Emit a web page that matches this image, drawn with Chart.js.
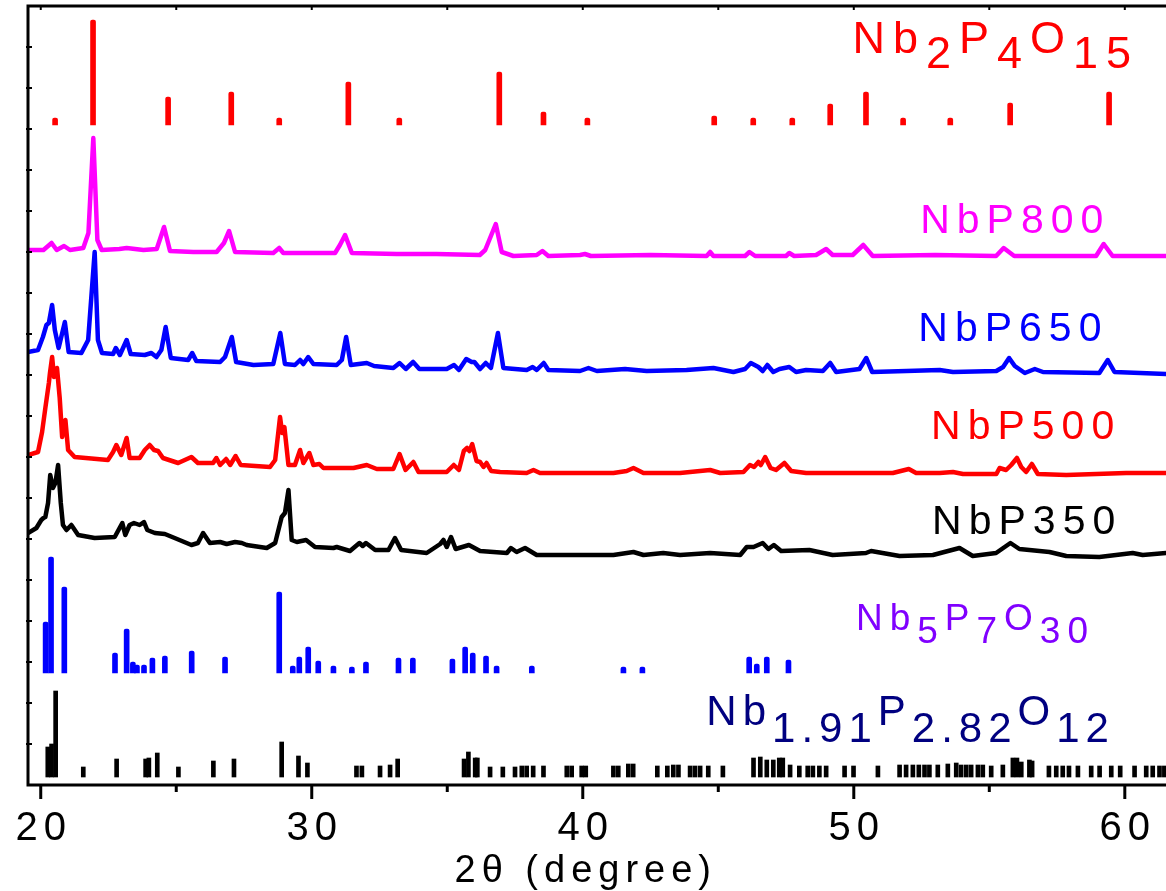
<!DOCTYPE html>
<html>
<head>
<meta charset="utf-8">
<title>XRD NbP</title>
<script src="https://cdn.jsdelivr.net/npm/chart.js@4"></script>
<style>
  html, body { margin: 0; padding: 0; background: #fff; }
</style>
</head>
<body>
<canvas id="xrdChart" width="1166" height="891"></canvas>
<script>
// 2-theta range and tick marks
const twoThetaMin = 19.53;
const twoThetaMax = 61.52;
const twoThetaTicks = [20, 25, 30, 35, 40, 45, 50, 55, 60];
const twoThetaLabels = [20, 30, 40, 50, 60];
const intensityMax = 779;
const intensityTickStep = 41;

// measured patterns, stacked: [2theta, intensity a.u.]
const nbp800 = [[19.53,535],[20.10,535],[20.40,542],[20.59,535],[20.86,539],[21.08,535],[21.57,537],[21.76,552],[21.94,647],[22.09,545],[22.25,535],[22.90,536],[23.17,537],[23.79,535],[24.28,536],[24.55,558],[24.77,534],[25.63,533],[26.49,533],[26.76,542],[26.95,554],[27.17,533],[28.58,532],[28.80,537],[28.95,532],[30.86,532],[31.04,540],[31.23,550],[31.48,532],[33.14,531],[34.60,531],[36.20,530],[36.40,535],[36.79,561],[37.01,533],[37.44,529],[38.30,530],[38.51,534],[38.73,529],[39.90,530],[40.08,531],[40.30,529],[42.50,530],[44.57,529],[44.70,533],[44.82,529],[45.99,529],[46.15,533],[46.36,529],[47.50,529],[47.62,532],[47.80,529],[48.61,530],[48.98,536],[49.22,530],[49.96,530],[50.35,540],[50.70,529],[53.00,530],[55.25,529],[55.53,537],[55.92,529],[58.94,529],[59.22,541],[59.55,529],[61.52,529]];

const nbp650 = [[19.53,433],[19.90,435],[20.08,448],[20.21,460],[20.30,462],[20.42,480],[20.52,455],[20.66,437],[20.89,463],[21.03,433],[21.50,432],[21.75,445],[21.99,533],[22.11,445],[22.26,432],[22.67,431],[22.77,437],[22.92,430],[23.17,445],[23.32,431],[23.84,430],[24.08,432],[24.27,428],[24.45,435],[24.61,458],[24.80,427],[25.44,425],[25.59,432],[25.74,424],[26.62,423],[26.80,428],[27.05,448],[27.21,423],[27.85,420],[28.58,421],[28.84,452],[29.01,421],[29.38,420],[29.57,425],[29.69,421],[29.87,428],[30.06,421],[30.92,420],[31.11,425],[31.27,448],[31.44,420],[32.03,422],[32.30,419],[33.01,417],[33.24,422],[33.47,416],[33.74,423],[33.97,416],[34.98,416],[35.25,420],[35.43,415],[35.70,426],[35.90,423],[36.00,423],[36.21,416],[36.42,422],[36.61,417],[36.87,452],[37.07,417],[37.93,415],[38.15,418],[38.30,415],[38.56,422],[38.73,415],[39.90,414],[40.21,417],[40.52,414],[41.56,416],[42.36,414],[43.83,415],[44.82,417],[45.56,413],[45.99,416],[46.20,422],[46.48,418],[46.64,414],[46.81,420],[47.03,413],[47.26,416],[47.62,418],[47.87,413],[48.24,415],[48.86,414],[49.13,422],[49.35,413],[50.21,416],[50.46,427],[50.68,413],[51.94,414],[53.17,415],[53.66,413],[55.26,414],[55.51,418],[55.73,427],[55.94,419],[56.31,412],[56.68,416],[56.98,413],[59.06,412],[59.37,425],[59.62,413],[61.52,411]];

const nbp500 = [[19.53,330],[19.90,333],[20.05,353],[20.17,377],[20.30,402],[20.34,412],[20.42,428],[20.49,408],[20.60,417],[20.70,387],[20.79,348],[20.91,365],[21.01,335],[21.25,328],[22.48,325],[22.67,333],[22.79,340],[22.97,330],[23.17,347],[23.28,327],[23.65,327],[23.84,335],[24.02,340],[24.18,335],[24.33,334],[24.51,327],[25.07,322],[25.56,328],[25.80,322],[26.36,322],[26.48,327],[26.62,320],[26.84,326],[26.99,320],[27.19,329],[27.38,320],[28.46,318],[28.65,325],[28.83,368],[28.91,352],[28.99,358],[29.14,320],[29.38,320],[29.57,335],[29.69,322],[29.91,332],[30.06,320],[30.28,321],[30.43,317],[31.54,317],[32.03,320],[32.40,316],[33.01,316],[33.24,331],[33.46,315],[33.75,323],[33.94,313],[34.98,313],[35.24,320],[35.43,315],[35.61,334],[35.73,337],[35.82,334],[35.92,341],[36.08,324],[36.21,323],[36.34,318],[36.45,322],[36.62,314],[36.95,313],[37.93,312],[38.18,315],[38.42,312],[41.13,312],[41.62,314],[41.87,317],[42.24,312],[43.59,312],[44.70,315],[45.07,312],[45.93,313],[46.17,320],[46.32,318],[46.48,323],[46.57,320],[46.73,328],[46.93,317],[47.13,315],[47.44,322],[47.69,314],[48.24,312],[49.22,312],[51.44,312],[52.03,316],[52.30,312],[53.17,312],[53.66,313],[54.03,311],[55.26,311],[55.38,317],[55.62,315],[55.81,320],[56.02,327],[56.18,318],[56.36,313],[56.57,321],[56.79,311],[57.84,310],[60.05,312],[61.52,312]];

const nbp350 = [[19.53,252],[19.84,257],[20.02,265],[20.10,267],[20.17,268],[20.27,282],[20.35,310],[20.45,297],[20.54,302],[20.64,320],[20.74,282],[20.82,260],[20.95,255],[21.13,260],[21.38,250],[21.99,247],[22.73,248],[23.01,262],[23.12,250],[23.28,260],[23.44,262],[23.65,260],[23.81,263],[23.93,255],[24.21,252],[24.58,251],[24.94,247],[25.56,240],[25.80,242],[25.99,252],[26.24,242],[26.62,243],[26.86,241],[27.17,243],[27.42,242],[27.60,240],[28.34,237],[28.65,242],[28.89,268],[29.01,272],[29.14,295],[29.26,245],[29.45,243],[29.79,245],[30.12,238],[30.80,237],[30.92,238],[31.41,234],[31.76,242],[31.88,239],[32.00,242],[32.34,235],[32.83,235],[33.07,247],[33.30,235],[34.24,232],[34.74,241],[34.86,245],[34.98,238],[35.14,248],[35.31,236],[35.80,240],[36.21,234],[37.20,232],[37.35,237],[37.56,233],[37.87,237],[38.30,230],[41.13,230],[41.87,233],[42.24,230],[42.97,232],[43.59,230],[44.70,232],[45.81,230],[46.05,238],[46.30,238],[46.64,242],[46.85,236],[47.05,240],[47.32,234],[48.36,235],[49.22,230],[50.45,232],[50.64,234],[51.69,229],[52.92,230],[53.90,237],[54.39,229],[55.25,232],[55.78,242],[56.11,236],[57.22,233],[57.84,229],[59.06,228],[60.29,232],[60.66,230],[61.52,232]];

// reference patterns: [2theta, relative intensity] above each base line
const nb2p4o15Base = 660;
const nb2p4o15Peaks = [[20.53,7],[21.93,105],[24.70,28],[27.03,33],[28.80,7],[31.35,43],[33.23,7],[36.92,53],[38.55,13],[40.17,7],[44.85,9],[46.29,7],[47.73,7],[49.13,21],[50.45,33],[51.82,7],[53.56,7],[55.77,22],[59.42,33]];

const nb5p7o30Base = 112;
const nb5p7o30Peaks = [[20.18,51],[20.38,116],[20.87,86],[22.74,20],[23.17,44],[23.40,11],[23.55,8],[23.81,8],[24.12,15],[24.58,17],[25.57,22],[26.80,16],[28.80,81],[29.30,7],[29.54,16],[29.87,26],[30.24,12],[30.80,7],[31.48,6],[32.00,11],[33.20,15],[33.73,15],[35.19,14],[35.66,26],[35.94,20],[36.43,17],[36.82,7],[38.12,7],[41.50,6],[42.20,6],[46.14,16],[46.42,9],[46.79,16],[47.59,13]];

const nb191Base = 8;
const nb191Peaks = [[20.26,30],[20.40,33],[20.55,86],[21.57,10],[22.80,18],[23.87,18],[23.99,19],[24.30,24],[25.08,10],[26.37,16],[27.13,18],[28.89,35],[29.51,21],[29.84,14],[31.65,11],[31.85,11],[32.52,11],[32.89,12],[33.17,18],[35.62,18],[35.78,25],[36.03,19],[36.11,19],[36.58,10],[37.05,10],[37.50,10],[37.75,11],[37.93,11],[38.17,11],[38.55,11],[39.41,11],[39.59,11],[39.96,11],[40.11,11],[41.13,11],[41.31,11],[41.68,13],[41.86,13],[42.75,11],[43.12,11],[43.34,12],[43.53,12],[43.96,11],[44.14,11],[44.33,11],[44.63,11],[45.17,11],[46.30,19],[46.55,20],[46.79,17],[47.03,17],[47.25,19],[47.38,19],[47.65,12],[47.99,11],[48.30,11],[48.49,11],[48.73,11],[48.98,11],[49.66,11],[49.99,11],[50.89,11],[51.69,12],[51.93,12],[52.18,12],[52.40,12],[52.61,12],[52.79,12],[53.10,12],[53.47,13],[53.78,14],[53.96,12],[54.15,12],[54.33,12],[54.58,12],[54.76,12],[55.07,11],[55.50,12],[55.87,19],[56.02,19],[56.18,15],[56.48,17],[56.58,16],[57.20,11],[57.47,11],[57.71,11],[57.94,11],[58.27,11],[58.76,11],[59.07,11],[59.50,11],[59.83,11],[60.36,11],[60.79,11],[61.03,11],[61.28,11],[61.46,11]];

// text labels: [text, subscript flag] runs, anchored at 2theta / intensity
const labels = [
  { runs: [['Nb',0],['2',1],['P',0],['4',1],['O',0],['15',1]], at: [49.95, 732], color: '#ff0000', size: 45, spacing: 8, drop: 15 },
  { runs: [['NbP800',0]], at: [52.45, 552], color: '#ff00ff', size: 41, spacing: 7, drop: 0 },
  { runs: [['NbP650',0]], at: [52.38, 444], color: '#0000ff', size: 41, spacing: 7, drop: 0 },
  { runs: [['NbP500',0]], at: [52.85, 346], color: '#ff0000', size: 41, spacing: 7, drop: 0 },
  { runs: [['NbP350',0]], at: [52.89, 251], color: '#000000', size: 41, spacing: 7, drop: 0 },
  { runs: [['Nb',0],['5',1],['P',0],['7',1],['O',0],['30',1]], at: [50.08, 155], color: '#8000ff', size: 37, spacing: 7, drop: 13 },
  { runs: [['Nb',0],['1.91',1],['P',0],['2.82',1],['O',0],['12',1]], at: [44.56, 60], color: '#000080', size: 42, spacing: 6, drop: 17 }
];

const FONT = '"Liberation Sans", Arial, sans-serif';

function curve(label, points, color) {
  return {
    type: 'line', label,
    data: points.map(([x, y]) => ({ x, y })),
    borderColor: color, borderWidth: 4.5,
    borderJoinStyle: 'round', borderCapStyle: 'round',
    pointRadius: 0, tension: 0, fill: false
  };
}

function sticks(label, peaks, base, color, width, radius) {
  return {
    type: 'bar', label,
    data: peaks.map(([x, h]) => ({ x, y: [base, base + h] })),
    backgroundColor: color, barThickness: width, grouped: false,
    borderRadius: radius, borderSkipped: 'start'
  };
}

// axes box, ticks and all text
const frame = {
  id: 'frame',
  afterDatasetsDraw(chart) {
    const { ctx, chartArea: a, scales: { x, y } } = chart;
    ctx.save();
    ctx.strokeStyle = '#000';
    ctx.lineCap = 'butt';

    ctx.lineWidth = 3;
    ctx.beginPath();
    ctx.moveTo(a.left, a.top); ctx.lineTo(a.right, a.top);
    ctx.moveTo(a.left, a.top - 1.5); ctx.lineTo(a.left, a.bottom + 1.5);
    ctx.moveTo(a.left - 1.5, a.bottom); ctx.lineTo(a.right, a.bottom);
    ctx.stroke();

    x.ticks.forEach(t => {
      const px = x.getPixelForValue(t.value);
      const major = twoThetaLabels.includes(t.value);
      ctx.lineWidth = 3;
      ctx.beginPath();
      ctx.moveTo(px, a.bottom); ctx.lineTo(px, a.bottom + (major ? 14 : 7));
      ctx.stroke();
      ctx.lineWidth = 2;
      ctx.beginPath();
      ctx.moveTo(px, a.top); ctx.lineTo(px, a.top + 4);
      ctx.stroke();
    });

    ctx.lineWidth = 2;
    for (let v = intensityTickStep; v < intensityMax; v += intensityTickStep) {
      const py = y.getPixelForValue(v);
      ctx.beginPath();
      ctx.moveTo(a.left - 2, py); ctx.lineTo(a.left + 4, py);
      ctx.stroke();
    }

    ctx.fillStyle = '#000';
    ctx.textAlign = 'center';
    ctx.textBaseline = 'alphabetic';
    ctx.letterSpacing = '6px';
    ctx.font = '40px ' + FONT;
    twoThetaLabels.forEach(v => {
      ctx.fillText(String(v), x.getPixelForValue(v) + 3, a.bottom + 55);
    });
    ctx.font = '38px ' + FONT;
    ctx.fillText('2\u03b8 (degree)', x.getPixelForValue(40) + 3, a.bottom + 97);

    ctx.textAlign = 'left';
    labels.forEach(l => {
      ctx.fillStyle = l.color;
      ctx.font = l.size + 'px ' + FONT;
      ctx.letterSpacing = l.spacing + 'px';
      let px = x.getPixelForValue(l.at[0]);
      const py = y.getPixelForValue(l.at[1]);
      l.runs.forEach(([text, sub]) => {
        ctx.fillText(text, px, py + (sub ? l.drop : 0));
        px += ctx.measureText(text).width;
      });
    });
    ctx.restore();
  }
};

new Chart(document.getElementById('xrdChart'), {
  type: 'line',
  data: {
    datasets: [
      sticks('Nb2P4O15', nb2p4o15Peaks, nb2p4o15Base, '#ff0000', 5, 2),
      curve('NbP800', nbp800, '#ff00ff'),
      curve('NbP650', nbp650, '#0000ff'),
      curve('NbP500', nbp500, '#ff0000'),
      curve('NbP350', nbp350, '#000000'),
      sticks('Nb5P7O30', nb5p7o30Peaks, nb5p7o30Base, '#0000ff', 5, 2),
      sticks('Nb1.91P2.82O12', nb191Peaks, nb191Base, '#000000', 4, 0)
    ]
  },
  options: {
    responsive: false,
    animation: false,
    layout: { padding: { left: 28, top: 6, right: 0, bottom: 106 } },
    plugins: { legend: { display: false }, tooltip: { enabled: false } },
    scales: {
      x: {
        type: 'linear', display: false, offset: false,
        min: twoThetaMin, max: twoThetaMax,
        afterBuildTicks: s => { s.ticks = twoThetaTicks.map(v => ({ value: v })); }
      },
      y: { type: 'linear', display: false, min: 0, max: intensityMax }
    }
  },
  plugins: [frame]
});
</script>
</body>
</html>
